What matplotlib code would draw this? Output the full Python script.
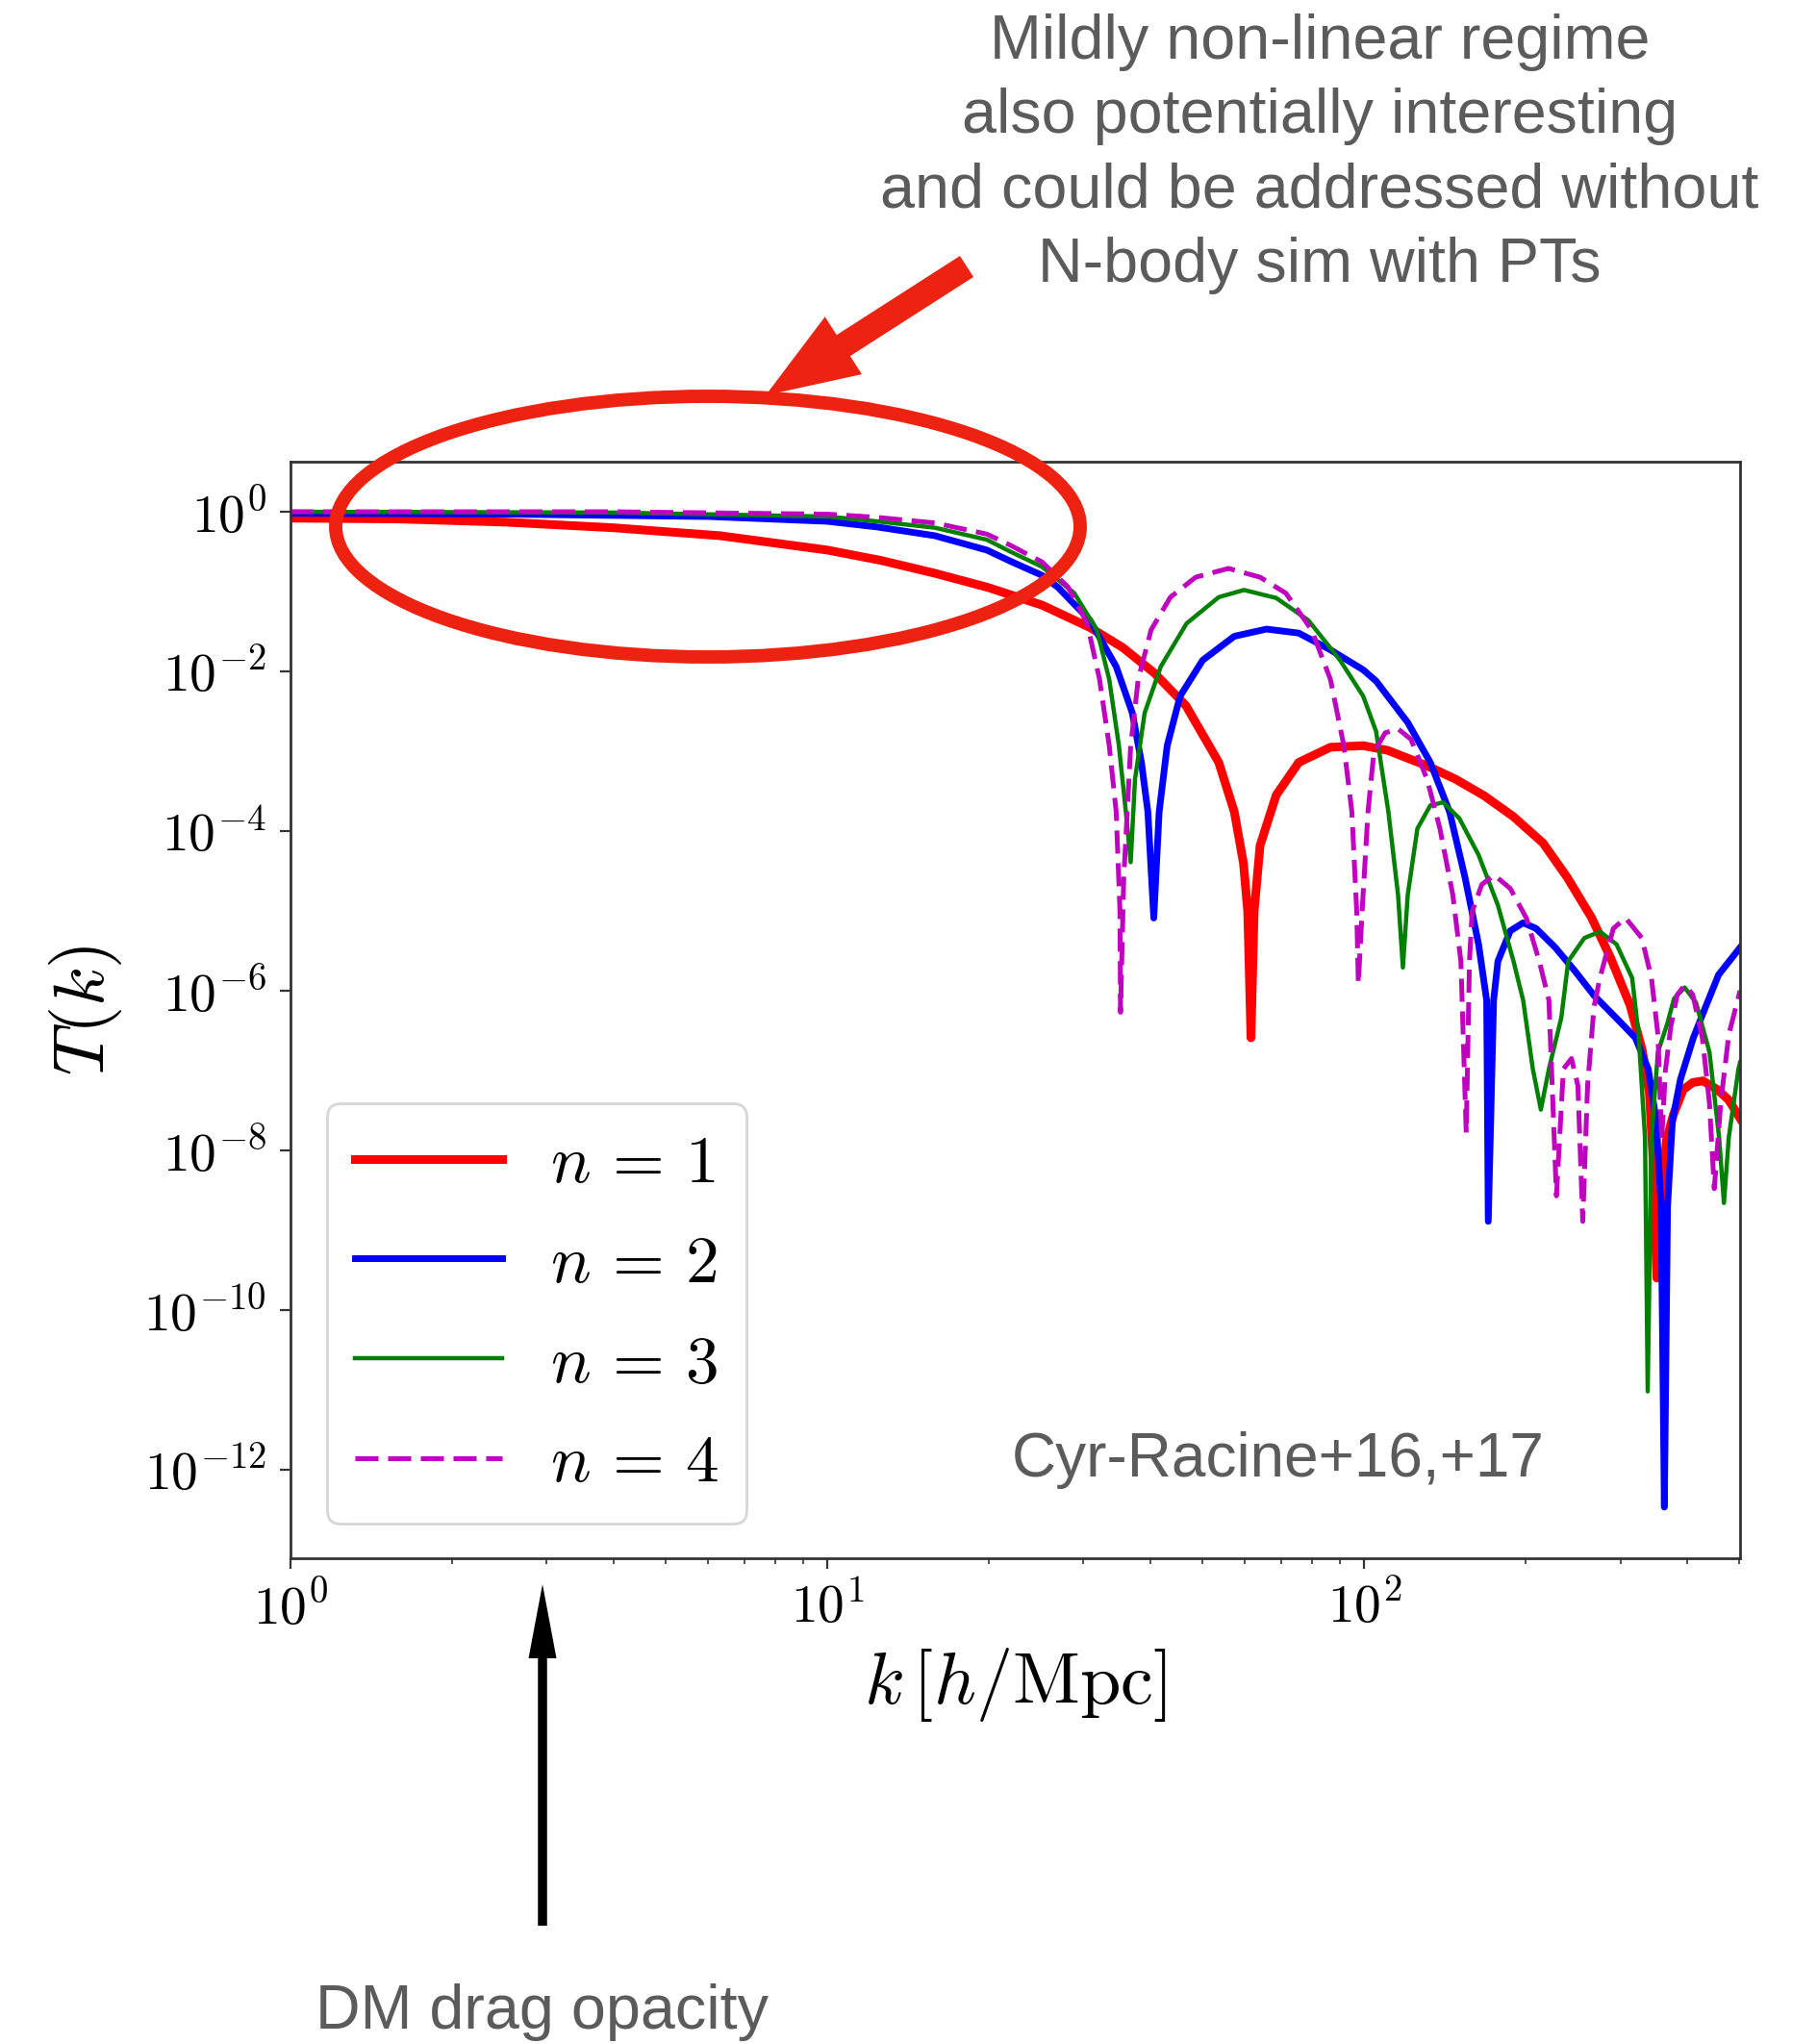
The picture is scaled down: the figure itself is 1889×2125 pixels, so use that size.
import numpy as np
import matplotlib
matplotlib.use("Agg")
import matplotlib.pyplot as plt
from matplotlib.patches import Ellipse, FancyArrow
from matplotlib.ticker import FixedLocator, FuncFormatter, LogLocator, NullLocator

plt.rcParams["mathtext.fontset"] = "cm"

# values, as log10(k) and log10(T)
logk_n1 = [0.0, 0.2, 0.4, 0.6, 0.8, 1.0, 1.1, 1.2, 1.3, 1.4, 1.489, 1.55, 1.609,
           1.668, 1.729, 1.758, 1.775, 1.783, 1.789, 1.795, 1.806, 1.836, 1.878,
           1.937, 1.998, 2.044, 2.116, 2.170, 2.224, 2.278, 2.333, 2.378, 2.423,
           2.459, 2.495, 2.518, 2.531, 2.538, 2.545, 2.554, 2.563, 2.576, 2.594,
           2.612, 2.631, 2.658, 2.679, 2.70]
logT_n1 = [-0.08, -0.09, -0.13, -0.2, -0.3, -0.48, -0.61, -0.77, -0.95, -1.17,
           -1.45, -1.7, -2.02, -2.43, -3.14, -3.76, -4.4, -5.01, -6.59, -5.0,
           -4.18, -3.55, -3.14, -2.95, -2.93, -2.99, -3.18, -3.35, -3.56, -3.82,
           -4.15, -4.58, -5.08, -5.59, -6.18, -6.75, -7.28, -8.12, -9.6, -8.46,
           -7.87, -7.55, -7.24, -7.15, -7.13, -7.24, -7.37, -7.6]

logk_n2 = [0.0, 0.4, 0.78, 1.0, 1.092, 1.2, 1.297, 1.341, 1.401, 1.43, 1.489,
           1.538, 1.568, 1.585, 1.597, 1.608, 1.618, 1.633, 1.657, 1.699, 1.758,
           1.818, 1.878, 1.937, 1.998, 2.022, 2.081, 2.123, 2.159, 2.188, 2.213,
           2.228, 2.231, 2.241, 2.249, 2.272, 2.296, 2.320, 2.356, 2.392, 2.428,
           2.475, 2.505, 2.529, 2.544, 2.553, 2.559, 2.565, 2.574, 2.589, 2.613,
           2.636, 2.66, 2.70]
logT_n2 = [-0.02, -0.03, -0.06, -0.12, -0.19, -0.3, -0.48, -0.62, -0.8, -0.95,
           -1.36, -1.94, -2.52, -3.14, -3.76, -5.09, -3.76, -2.93, -2.31, -1.86,
           -1.56, -1.47, -1.52, -1.73, -1.98, -2.12, -2.64, -3.14, -3.76, -4.59,
           -5.42, -6.12, -8.89, -6.12, -5.63, -5.25, -5.15, -5.22, -5.46, -5.75,
           -6.06, -6.38, -6.59, -6.98, -7.63, -8.7, -12.47, -8.7, -7.63, -7.11,
           -6.59, -6.2, -5.8, -5.46]

logk_n3 = [0.0, 0.6, 1.0, 1.092, 1.2, 1.297, 1.341, 1.400, 1.460, 1.502, 1.525,
           1.543, 1.556, 1.565, 1.573, 1.591, 1.621, 1.669, 1.729, 1.776, 1.836,
           1.896, 1.955, 1.998, 2.022, 2.045, 2.063, 2.072, 2.081, 2.099, 2.123,
           2.147, 2.177, 2.213, 2.249, 2.278, 2.296, 2.314, 2.329, 2.344, 2.367,
           2.380, 2.410, 2.439, 2.470, 2.499, 2.511, 2.523, 2.528, 2.535, 2.547,
           2.565, 2.577, 2.597, 2.618, 2.643, 2.661, 2.670, 2.679, 2.697, 2.70]
logT_n3 = [0.0, -0.01, -0.06, -0.12, -0.2, -0.35, -0.5, -0.69, -1.02, -1.48,
           -2.10, -2.93, -3.76, -4.39, -3.35, -2.52, -1.94, -1.40, -1.07, -0.98,
           -1.08, -1.36, -1.86, -2.31, -2.75, -3.76, -4.80, -5.71, -4.80, -3.97,
           -3.68, -3.64, -3.84, -4.30, -4.93, -5.63, -6.12, -6.98, -7.49, -6.98,
           -6.34, -5.63, -5.34, -5.26, -5.42, -5.84, -6.55, -7.84, -11.02, -7.84,
           -6.77, -6.4, -6.1, -5.96, -6.15, -6.77, -7.84, -8.66, -7.84, -6.98,
           -6.9]

logk_n4 = [0.0, 0.6, 1.0, 1.092, 1.2, 1.297, 1.341, 1.400, 1.448, 1.484, 1.507,
           1.525, 1.538, 1.545, 1.546, 1.552, 1.565, 1.579, 1.603, 1.639, 1.686,
           1.747, 1.806, 1.854, 1.902, 1.937, 1.962, 1.977, 1.986, 1.989, 1.996,
           2.007, 2.018, 2.039, 2.063, 2.087, 2.117, 2.141, 2.165, 2.180, 2.19,
           2.196, 2.201, 2.219, 2.242, 2.272, 2.302, 2.326, 2.344, 2.358, 2.371,
           2.386, 2.398, 2.407, 2.416, 2.428, 2.439, 2.464, 2.487, 2.517, 2.535,
           2.547, 2.554, 2.561, 2.571, 2.583, 2.597, 2.612, 2.630, 2.643, 2.652,
           2.664, 2.679, 2.70]
logT_n4 = [0.0, 0.0, -0.03, -0.07, -0.14, -0.28, -0.42, -0.63, -0.94, -1.40,
           -2.10, -2.93, -3.76, -5.0, -6.27, -4.6, -2.93, -2.10, -1.48, -1.07,
           -0.82, -0.71, -0.82, -1.02, -1.48, -2.10, -2.93, -3.76, -5.01, -5.91,
           -5.01, -3.76, -3.01, -2.77, -2.72, -2.85, -3.35, -3.97, -4.80, -5.63,
           -7.78, -5.63, -5.01, -4.67, -4.55, -4.72, -5.09, -5.63, -6.12, -8.57,
           -6.98, -6.85, -7.19, -8.89, -7.19, -6.20, -5.84, -5.22, -5.09, -5.34,
           -5.84, -6.55, -7.87, -7.0, -6.45, -6.05, -5.93, -6.05, -6.6, -7.41,
           -8.48, -7.41, -6.55, -6.0]

labels = [r"$n\,=\,1$", r"$n\,=\,2$", r"$n\,=\,3$", r"$n\,=\,4$"]
colors = ["red", "blue", "green", "m"]

ann_red = "#ee2211"
ann_gray = "#5b5b5b"

fig = plt.figure(figsize=(18.9, 21.25), dpi=100)
ax = fig.add_axes([302 / 1890, 1 - 1620 / 2125, 1507 / 1890, 1140 / 2125])


def px(x, y):
    # picture pixels (origin top left) -> inches for fig.dpi_scale_trans
    return x / 100, (2125 - y) / 100


ax.loglog(10 ** np.array(logk_n1), 10 ** np.array(logT_n1), color=colors[0], lw=6.5, label=labels[0])
ax.loglog(10 ** np.array(logk_n2), 10 ** np.array(logT_n2), color=colors[1], lw=5.0, label=labels[1])
ax.loglog(10 ** np.array(logk_n3), 10 ** np.array(logT_n3), color=colors[2], lw=3.2, label=labels[2])
ax.loglog(10 ** np.array(logk_n4), 10 ** np.array(logT_n4), color=colors[3], lw=3.6,
          dashes=(4.8, 2.0), label=labels[3])

ax.set_xlim(1, 10 ** 2.70)
ax.set_ylim(10 ** -13.11, 10 ** 0.627)

ax.xaxis.set_major_locator(FixedLocator([1, 10, 100]))
ax.xaxis.set_minor_locator(LogLocator(base=10, subs=np.arange(2, 10)))
ax.yaxis.set_major_locator(FixedLocator([10.0 ** e for e in range(0, -13, -2)]))
ax.yaxis.set_minor_locator(NullLocator())
fmt = FuncFormatter(lambda v, p: r"$10^{%d}$" % round(np.log10(v)))
ax.xaxis.set_major_formatter(fmt)
ax.yaxis.set_major_formatter(fmt)
ax.xaxis.set_minor_formatter(plt.NullFormatter())

ax.tick_params(which="major", length=8, width=1.6, labelsize=40, pad=10, color="#333333")
ax.tick_params(which="minor", length=4.5, width=1.2, color="#333333")
for sp in ax.spines.values():
    sp.set_linewidth(2.0)
    sp.set_color("#333333")

ax.set_xlabel(r"$k\,[h/\mathrm{Mpc}]$", fontsize=55)
ax.set_ylabel(r"$T(k)$", fontsize=54)
ax.xaxis.set_label_coords(0.5, -0.08)
ax.yaxis.set_label_coords(-0.115, 0.5)

leg = ax.legend(loc="lower left", bbox_to_anchor=(0.025, 0.032), borderaxespad=0,
                fontsize=50, handlelength=2.2, handletextpad=0.72, labelspacing=0.53,
                borderpad=0.42, framealpha=0.8, edgecolor="0.8", fancybox=True)
leg.get_frame().set_linewidth(2.0)

# slide overlays
fig.add_artist(Ellipse(px(736, 547.5), 7.74, 2.71, transform=fig.dpi_scale_trans,
                       fill=False, edgecolor=ann_red, linewidth=10))
tx, ty = px(1005, 277)
hx, hy = px(796, 411)
fig.add_artist(FancyArrow(tx, ty, hx - tx, hy - ty, width=0.26, head_width=0.71,
                          head_length=0.96, length_includes_head=True,
                          transform=fig.dpi_scale_trans, color=ann_red, lw=0))
tx, ty = px(564, 2002)
hx, hy = px(564, 1647)
fig.add_artist(FancyArrow(tx, ty, hx - tx, hy - ty, width=0.095, head_width=0.29,
                          head_length=0.77, length_includes_head=True,
                          transform=fig.dpi_scale_trans, color="black", lw=0))

note_lines = ["Mildly non-linear regime", "also potentially interesting",
              "and could be addressed without", "N-body sim with PTs"]
for i, line in enumerate(note_lines):
    fig.text(*px(1372, 61 + 77.3 * i), line, transform=fig.dpi_scale_trans,
             ha="center", va="baseline", fontsize=46.5, color=ann_gray,
             family="Liberation Sans")

fig.text(*px(1329, 1535), "Cyr-Racine+16,+17", transform=fig.dpi_scale_trans,
         ha="center", va="baseline", fontsize=46, color=ann_gray, family="Liberation Sans")
fig.text(*px(564, 2109), "DM drag opacity", transform=fig.dpi_scale_trans,
         ha="center", va="baseline", fontsize=46.5, color=ann_gray, family="Liberation Sans")

fig.savefig("out.png", dpi=100)
